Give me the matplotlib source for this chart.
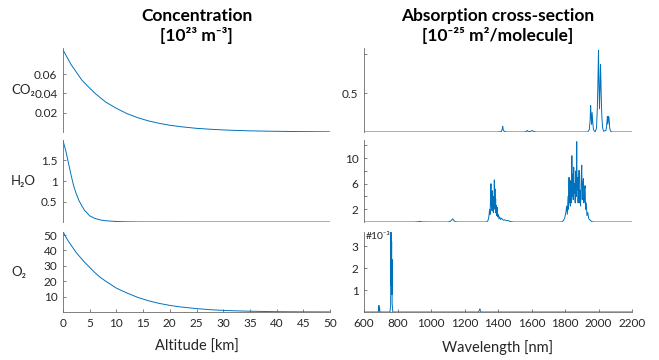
import matplotlib
matplotlib.use('Agg')
import matplotlib.pyplot as plt
import numpy as np

plt.rcParams['font.family'] = ['Lato', 'DejaVu Sans']

# concentration profiles (10^23 m^-3) vs altitude (km)
altitude = [0, 0.5, 1, 1.5, 2, 2.5, 3, 3.5, 4, 5, 6, 7, 8, 10, 12, 14, 16, 18, 20,
            22, 25, 28, 31, 35, 40, 45, 50]
conc_co2 = [0.085, 0.080, 0.075, 0.070, 0.066, 0.062, 0.058, 0.054, 0.051, 0.0455,
            0.040, 0.0355, 0.031, 0.0245, 0.019, 0.0148, 0.0115, 0.0090, 0.0070,
            0.0055, 0.0038, 0.0027, 0.0019, 0.0012, 0.0007, 0.0004, 0.0002]
conc_h2o = [1.98, 1.75, 1.45, 1.15, 0.88, 0.68, 0.52, 0.40, 0.29, 0.15, 0.085, 0.05,
            0.03, 0.012, 0.005, 0.002, 0.001, 0.0005, 0.0003, 0.0002, 0.0001, 0, 0,
            0, 0, 0, 0]
conc_o2 = [52.3, 49.0, 46.0, 43.5, 41.0, 38.5, 36.5, 34.5, 32.5, 29.0, 25.5, 22.5,
           20.0, 15.5, 12.3, 9.5, 7.3, 5.6, 4.3, 3.3, 2.2, 1.4, 0.9, 0.5, 0.2,
           0.1, 0.05]

# absorption cross-sections (10^-25 m^2/molecule) vs wavelength (nm)
wl_co2 = [600, 1400, 1420, 1426, 1428, 1431, 1436, 1450, 1560, 1570, 1575, 1580,
          1595, 1605, 1612, 1630, 1935, 1945, 1950, 1953, 1956, 1959, 1962, 1966,
          1970, 1980, 1988, 1993, 1997, 2000, 2003, 2006, 2009, 2012, 2015, 2019,
          2024, 2030, 2045, 2050, 2053, 2056, 2060, 2063, 2067, 2072, 2080, 2200]
xs_co2 = [0, 0, 0.005, 0.04, 0.073, 0.03, 0.01, 0, 0, 0.01, 0.02, 0.005,
          0.008, 0.02, 0.005, 0, 0, 0.03, 0.15, 0.34, 0.2, 0.1, 0.25, 0.12,
          0.03, 0, 0.05, 0.3, 0.7, 1.05, 0.6, 0.3, 0.55, 0.87, 0.6, 0.25,
          0.06, 0.01, 0.02, 0.12, 0.2, 0.1, 0.2, 0.18, 0.05, 0.01, 0, 0]

wl_h2o = [600, 900, 925, 935, 945, 1000, 1100, 1115, 1125, 1130, 1135, 1145, 1160,
          1330, 1340, 1345, 1350, 1353, 1356, 1358, 1360, 1362, 1364, 1366, 1368,
          1370, 1372, 1374, 1376, 1378, 1380, 1382, 1384, 1386, 1388, 1390, 1392,
          1395, 1398, 1402, 1406, 1410, 1415, 1420, 1430, 1440, 1450, 1460, 1470,
          1485, 1500, 1780, 1790, 1798, 1805, 1810, 1814, 1818, 1821, 1824, 1826,
          1829, 1832, 1835, 1838, 1841, 1843, 1846, 1849, 1852, 1855, 1858, 1861,
          1864, 1867, 1870, 1872, 1875, 1878, 1881, 1884, 1887, 1890, 1893, 1897,
          1900, 1903, 1906, 1910, 1913, 1916, 1920, 1923, 1927, 1931, 1936, 1942,
          1950, 1960, 1975, 2200]
xs_h2o = [0, 0, 0.05, 0.1, 0.02, 0, 0, 0.1, 0.35, 0.5, 0.25, 0.05, 0,
          0, 0.2, 0.8, 2.0, 1.2, 4.5, 6.0, 2.5, 3.5, 1.8, 4.9, 2.2,
          3.0, 1.5, 4.0, 2.0, 6.6, 2.8, 5.2, 2.0, 3.6, 1.4, 2.6, 1.0,
          2.3, 0.8, 1.2, 0.5, 0.8, 0.4, 0.6, 0.3, 0.35, 0.2, 0.25, 0.1,
          0.02, 0, 0, 0.2, 0.6, 1.5, 2.5, 1.2, 4.0, 2.0, 7.0, 3.0,
          5.5, 2.5, 6.5, 3.0, 10.4, 4.0, 7.5, 3.5, 8.6, 4.5, 6.0, 3.0,
          8.0, 4.0, 12.6, 5.0, 7.0, 3.0, 5.5, 8.1, 3.0, 5.0, 2.5, 7.0,
          8.9, 3.5, 6.0, 6.8, 3.0, 5.0, 5.7, 2.0, 3.0, 1.0, 1.5, 0.5,
          0.3, 0.05, 0, 0]

wl_o2 = [600, 685, 689, 691, 693, 695, 755, 759, 761, 762, 763, 764, 765, 766,
         767, 768, 770, 772, 1280, 1288, 1292, 1296, 1300, 2200]
xs_o2 = [0, 0, 0.3, 0.05, 0.2, 0, 0, 0.3, 3.7, 1.2, 3.5, 2.2, 3.2, 0.8,
         2.4, 0.4, 0.2, 0, 0, 0.05, 0.15, 0.03, 0, 0]

gases = ['CO₂', 'H₂O', 'O₂']
conc = [conc_co2, conc_h2o, conc_o2]
spectra = [(wl_co2, xs_co2), (wl_h2o, xs_h2o), (wl_o2, xs_o2)]

conc_ylim = [0.087, 2.0, 52]
conc_ticks = [[0.02, 0.04, 0.06], [0.5, 1, 1.5], [10, 20, 30, 40, 50]]
conc_labels = [['0.02', '0.04', '0.06'], ['0.5', '1', '1.5'],
               ['10', '20', '30', '40', '50']]
xs_ylim = [1.08, 12.86, 3.65]
xs_ticks = [[0.5, 1.0], [2, 4, 6, 8, 10, 12], [1, 2, 3]]
xs_labels = [['0.5', ''], ['2', '', '6', '', '10', ''], ['1', '2', '3']]

line_col = '#0072BD'
W, H = 659, 360
rows = [(48, 132), (140, 222), (232, 312)]

fig = plt.figure(figsize=(6.59, 3.6), dpi=100)

def style(ax, bottom_row):
    for s in ['top', 'right']:
        ax.spines[s].set_visible(False)
    ax.spines['left'].set_color('#6b6b6b')
    ax.spines['bottom'].set_color('#6b6b6b')
    ax.spines['left'].set_linewidth(0.6)
    ax.spines['bottom'].set_linewidth(0.6)
    ax.tick_params(direction='in', length=2.5, width=0.6, color='#6b6b6b',
                   labelsize=8.5, labelcolor='#262626', pad=4)
    if not bottom_row:
        ax.spines['bottom'].set_visible(False)
        ax.tick_params(axis='x', bottom=False, labelbottom=False)

for i, (y0, y1) in enumerate(rows):
    bottom = (H - y1) / H
    height = (y1 - y0) / H
    axl = fig.add_axes([63 / W, bottom, 267 / W, height])
    axr = fig.add_axes([364 / W, bottom, 268 / W, height])

    axl.plot(altitude, conc[i], color=line_col, lw=0.7)
    axl.set_xlim(0, 50)
    axl.set_ylim(0, conc_ylim[i])
    axl.set_yticks(conc_ticks[i])
    axl.set_yticklabels(conc_labels[i])
    style(axl, i == 2)
    fig.text(11 / W, bottom + height / 2, gases[i], fontsize=9.5,
             ha='left', va='center', color='#262626')

    wl, xs = spectra[i]
    axr.plot(wl, xs, color=line_col, lw=0.7)
    axr.set_xlim(600, 2200)
    axr.set_ylim(0, xs_ylim[i])
    axr.set_yticks(xs_ticks[i])
    axr.set_yticklabels(xs_labels[i])
    style(axr, i == 2)

    if i == 0:
        axl.set_title('Concentration\n[10²³ m⁻³]', fontsize=12.5, fontweight='bold',
                      pad=5, linespacing=1.25)
        axr.set_title('Absorption cross-section\n[10⁻²⁵ m²/molecule]', fontsize=12.5,
                      fontweight='bold', pad=5, linespacing=1.25)
    if i == 2:
        axl.set_xticks(np.arange(0, 51, 5))
        axr.set_xticks(np.arange(600, 2201, 200))
        axl.set_xlabel('Altitude [km]', fontsize=10.5, color='#262626', labelpad=8)
        axr.set_xlabel('Wavelength [nm]', fontsize=10.5, color='#262626', labelpad=8)
        axr.text(0.006, 1.0, '#10⁻³', transform=axr.transAxes, fontsize=7.5,
                 ha='left', va='top', color='#262626')

fig.savefig('out.png', dpi=100)
